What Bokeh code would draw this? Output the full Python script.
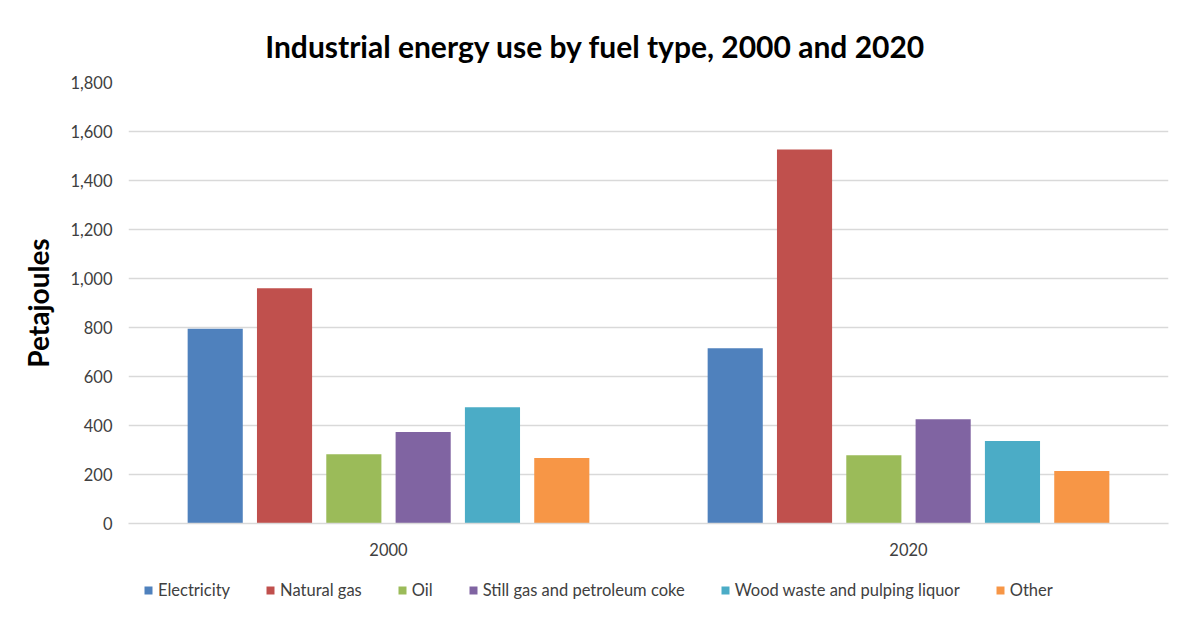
import numpy as np
from bokeh.plotting import figure
from bokeh.layouts import column
from bokeh.models import (ColumnDataSource, FactorRange, Range1d, Legend, LegendItem,
                          NumeralTickFormatter, FixedTicker, Label)
from bokeh.transform import dodge
from bokeh.embed import file_html
from bokeh.resources import INLINE

# Industrial energy use (petajoules) by fuel type
years = ["2000", "2020"]
fuels = ["Electricity", "Natural gas", "Oil", "Still gas and petroleum coke",
         "Wood waste and pulping liquor", "Other"]
electricity = [795, 715]
natural_gas = [960, 1527]
oil = [283, 279]
still_gas = [373, 426]
wood_waste = [475, 337]
other = [267, 214]
y_ticks = [0, 200, 400, 600, 800, 1000, 1200, 1400, 1600, 1800]
title_text = "Industrial energy use by fuel type, 2000 and 2020"

series = [electricity, natural_gas, oil, still_gas, wood_waste, other]
colors = ["#4F81BD", "#C0504D", "#9BBB59", "#8064A2", "#4BACC6", "#F79646"]

FONT = "Lato"
TEXT = "#404040"
LEFT, RIGHT = 128, 22          # page margins around the plotting frame
FRAME_W = 1190 - LEFT - RIGHT
TITLE_H, LEGEND_H = 70, 60


def strip(height):
    """A bare figure used as a text/legend band sharing the chart's frame margins."""
    f = figure(width=1190, height=height, output_backend="svg", toolbar_location=None,
               x_axis_type=None, y_axis_type=None,
               min_border_left=LEFT, min_border_right=RIGHT,
               min_border_top=0, min_border_bottom=0,
               x_range=Range1d(0, FRAME_W), y_range=Range1d(0, height))
    f.outline_line_color = None
    f.xgrid.grid_line_color = None
    f.ygrid.grid_line_color = None
    return f


# title band (baseline 45 px from the top of the page)
tf = strip(TITLE_H)
tf.add_layout(Label(x=595 - LEFT, y=TITLE_H - 45, text=title_text, text_align="center",
                    text_baseline="alphabetic", text_font=FONT, text_font_size="30px",
                    text_font_style="bold", text_color="#000000"))

# main chart, frame from y=82 to y=523 on the page
src = ColumnDataSource(dict(year=years, **{f"s{i}": v for i, v in enumerate(series)}))

p = figure(width=1190, height=620 - TITLE_H - LEGEND_H,
           x_range=FactorRange(*years, range_padding=0),
           y_range=Range1d(0, 1800),
           output_backend="svg", toolbar_location=None,
           min_border_left=LEFT, min_border_right=RIGHT,
           min_border_top=82 - TITLE_H, min_border_bottom=37)
p.outline_line_color = None

pitch = 0.1333
bar_w = 0.106
for i, col in enumerate(colors):
    off = (i - 2.5) * pitch
    p.vbar(x=dodge("year", off, range=p.x_range), top=f"s{i}", width=bar_w,
           source=src, fill_color=col, line_color=None)

p.yaxis.ticker = FixedTicker(ticks=y_ticks)
p.yaxis.formatter = NumeralTickFormatter(format="0,0")
p.yaxis.axis_label = "Petajoules"
p.yaxis.axis_label_text_font = FONT
p.yaxis.axis_label_text_font_size = "28px"
p.yaxis.axis_label_text_font_style = "bold"
p.yaxis.axis_label_text_color = "#000000"
p.yaxis.axis_label_standoff = 12
p.yaxis.axis_line_color = None
p.yaxis.major_tick_line_color = None
p.yaxis.minor_tick_line_color = None
p.yaxis.major_label_text_font = FONT
p.yaxis.major_label_text_font_size = "16.5px"
p.yaxis.major_label_text_color = TEXT
p.yaxis.major_label_standoff = 10

p.xaxis.axis_line_color = "#d9d9d9"
p.xaxis.axis_line_width = 1.5
p.xaxis.major_tick_line_color = None
p.xaxis.minor_tick_line_color = None
p.xaxis.major_label_text_font = FONT
p.xaxis.major_label_text_font_size = "16.5px"
p.xaxis.major_label_text_color = TEXT
p.xaxis.major_label_standoff = 13

p.xgrid.grid_line_color = None
p.ygrid.grid_line_color = "#d9d9d9"
p.ygrid.grid_line_width = 1.5

# legend band; the swatch renderers hold no visible data
lg = strip(LEGEND_H)
items = []
for name, col in zip(fuels, colors):
    r = lg.vbar(x=np.array([np.nan]), top=np.array([np.nan]), width=0.5,
                fill_color=col, line_color=None)
    items.append(LegendItem(label=name, renderers=[r]))
legend = Legend(items=items, orientation="horizontal", location=(15, 20),
                label_text_font=FONT, label_text_font_size="16.5px",
                label_text_color=TEXT, glyph_width=10, glyph_height=10,
                label_standoff=5, spacing=35, border_line_color=None,
                background_fill_alpha=0, padding=0, margin=0)
lg.add_layout(legend, "center")

page = column(tf, p, lg, spacing=0)
open("out.html", "w").write(file_html(page, INLINE))
